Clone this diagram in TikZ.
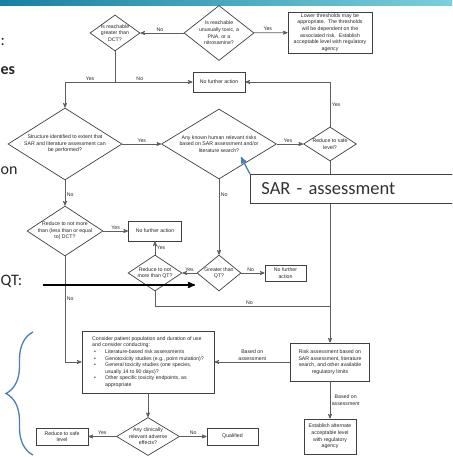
\documentclass[tikz,border=0pt]{standalone}
\usepackage{fontspec}
\setmainfont{Liberation Sans}
\newfontfamily\slidefont{Carlito}
\usetikzlibrary{positioning}
\usetikzlibrary{shapes.geometric}
\usetikzlibrary{arrows}
\usetikzlibrary{decorations.pathreplacing}
\definecolor{lncol}{HTML}{5E5E5E}
\definecolor{boxcol}{HTML}{404040}
\definecolor{txtcol}{HTML}{262626}
\definecolor{bandA}{HTML}{1A7FA3}
\definecolor{bandB}{HTML}{7CCFDB}
\definecolor{callblue}{HTML}{4A7EBB}
\newcommand\flowfont{\fontsize{5.2}{6.6}\selectfont}
\tikzset{>=stealth'}
\tikzset{ask/.style={draw=boxcol, diamond, aspect=1.5, line width=0.7pt, inner sep=-3pt, align=center, font=\flowfont, text=txtcol, fill=white}}
\tikzset{act/.style={draw=boxcol, line width=0.9pt, inner sep=1pt, align=center, font=\flowfont, text=txtcol, fill=white}}
\tikzset{ed/.style={font=\flowfont, text=txtcol, inner sep=1.5pt, align=center}}
\tikzset{ln/.style={draw=lncol, line width=0.7pt}}
\tikzset{slidetxt/.style={inner sep=0pt, text=black!85, font=\slidefont\fontsize{16}{20}\selectfont}}

\begin{document}
\begin{tikzpicture}[x=1pt, y=-1pt]
\useasboundingbox (0,0) rectangle (452,457);
\clip (0,0) rectangle (452,457);

% title band
\shade[left color=bandA, right color=bandB] (0,0) rectangle (452,6);

% slide text at the left edge
\node[slidetxt, anchor=base west] (colon) at (0.5,46) {:};
\node[slidetxt, anchor=base west, font=\slidefont\bfseries\fontsize{16}{20}\selectfont] (es) at (0.5,75) {es};
\node[slidetxt, anchor=base west] (on) at (0.5,174) {on};
\node[slidetxt, anchor=base west] (qt) at (0.5,285) {QT:};

% decisions and actions
\node[ask, minimum width=50pt, minimum height=36pt] (dct) at (115,33) {Is reachable\\greater than\\DCT?};
\node[ask, minimum width=70pt, minimum height=55pt] (toxic) at (219,33) {Is reachable\\unusually toxic, a\\PNA, or a\\nitrosamine?};
\node[act, minimum width=84pt, minimum height=41pt] (lower) at (330,32.5) {Lower thresholds may be\\appropriate.\ \ The thresholds\\will be dependent on the\\associated risk.\ \ Establish\\acceptable level with regulatory\\agency};
\node[act, minimum width=52pt, minimum height=20pt] (nfa1) at (219,82) {No further action};

\node[ask, minimum width=114pt, minimum height=72pt] (sar) at (65,144) {Structure identified to extent that\\SAR and literature assessment can\\be performed?};
\node[ask, minimum width=115pt, minimum height=70pt] (risks) at (219,144) {Any known human relevant risks\\based on SAR assessment and/or\\literature search?};
\node[ask, minimum width=53pt, minimum height=34pt] (safe) at (330,144) {Reduce to safe\\level?};

\node[ask, minimum width=76pt, minimum height=50pt] (ledct) at (65,231) {Reduce to not more\\than (less than or equal\\to) DCT?};
\node[act, minimum width=53pt, minimum height=20pt] (nfa2) at (155,231) {No further action};
\node[ask, minimum width=54pt, minimum height=36pt] (leqt) at (155,273) {Reduce to not\\more than QT?};
\node[ask, minimum width=44pt, minimum height=36pt] (gtqt) at (219,273) {Greater than\\QT?};
\node[act, minimum width=41pt, minimum height=16pt] (nfa3) at (285.5,273) {No further\\action};

\node[act, minimum width=132pt, minimum height=62pt, align=left] (consider) at (148,362) {Consider patient population and duration of use\\and consider conducting:\\
\makebox[13pt][l]{\hspace{2pt}\textbullet}Literature-based risk assessments\\
\makebox[13pt][l]{\hspace{2pt}\textbullet}Genotoxicity studies (e.g., point mutation)?\\
\makebox[13pt][l]{\hspace{2pt}\textbullet}General toxicity studies (one species,\\
\hspace*{13pt}usually 14 to 90 days)?\\
\makebox[13pt][l]{\hspace{2pt}\textbullet}Other specific toxicity endpoints, as\\
\hspace*{13pt}appropriate};
\node[act, minimum width=79pt, minimum height=38pt] (riskas) at (330,362) {Risk assessment based on\\SAR assessment, literature\\search, and other available\\regulatory limits};

\node[ask, minimum width=63pt, minimum height=38pt] (clin) at (148,436.5) {Any clinically\\relevant adverse\\effects?};
\node[act, minimum width=52pt, minimum height=17pt] (reduce) at (62,436.5) {Reduce to safe\\level};
\node[act, minimum width=51pt, minimum height=17pt] (qual) at (232.5,436.5) {Qualified};
\node[act, minimum width=52pt, minimum height=35pt] (alt) at (330,436.5) {Establish alternate\\acceptable level\\with regulatory\\agency};

% connectors
\coordinate (j1) at (115,82);
\coordinate (j2) at (330,306);
\draw[ln,->] (toxic) -- node[ed,above,pos=0.55] {No} (dct);
\draw[ln,->] (toxic) -- node[ed,above,pos=0.41] {Yes} (lower);
\draw[ln] (dct) -- (j1);
\draw[ln,->] (j1) -| node[ed,above,pos=0.25] {Yes} (sar);
\draw[ln,->] (j1) -- node[ed,above,pos=0.32] {No} (nfa1);
\draw[ln,->] (sar) -- node[ed,above] {Yes} (risks);
\draw[ln,->] (risks) -- node[ed,above,pos=0.42] {Yes} (safe);
\draw[ln,->] (safe) |- node[ed,right,pos=0.25] {Yes} (nfa1);
\draw[ln,->] (sar) -- node[ed,right,pos=0.58] {No} (ledct);
\draw[ln,->] (risks) -- node[ed,right,pos=0.2] {No} (gtqt);
\draw[ln,->] (ledct) -- node[ed,above] {Yes} (nfa2);
\draw[ln,->] (leqt) -- node[ed,right] {Yes} (nfa2);
\draw[ln,->] (gtqt) -- node[ed,above] {Yes} (leqt);
\draw[ln,->] (gtqt) -- node[ed,above,pos=0.4] {No} (nfa3);
\draw[ln] (leqt) |- node[ed,above,pos=0.77] {No} (j2);
\draw[ln,->] (safe) -- (riskas);
\draw[ln,->] (ledct) |- node[ed,right,pos=0.2] {No} (consider);
\draw[ln,->] (riskas) -- node[ed,above] {Based on\\assessment} (consider);
\draw[ln,->] (riskas) -- node[ed,right] {Based on\\assessment} (alt);
\draw[ln,->] (consider) -- (clin);
\draw[ln,->] (clin) -- node[ed,above] {Yes} (reduce);
\draw[ln,->] (clin) -- node[ed,above] {No} (qual);

% thick pointer to the QT decision
\coordinate (qtfrom) at (43,285);
\coordinate (qtto) at (195,285);
\draw[->, line width=1.5pt] (qtfrom) -- (qtto);

% callout
\node[draw=boxcol, line width=0.8pt, fill=white, anchor=north west, minimum height=29pt, text width=200pt, inner xsep=11pt, align=left, text=black!80, font=\slidefont\fontsize{18.5}{22}\selectfont] (sarnote) at (250,174) {SAR - assessment};
\coordinate (sarpt) at (241,157);
\draw[->, callblue, line width=1.3pt] (sarnote.north west) -- (sarpt);

% brace
\draw[callblue, line width=1.3pt, decorate, decoration={brace, amplitude=27pt}] (33,455) -- (33,332);
\end{tikzpicture}
\end{document}
